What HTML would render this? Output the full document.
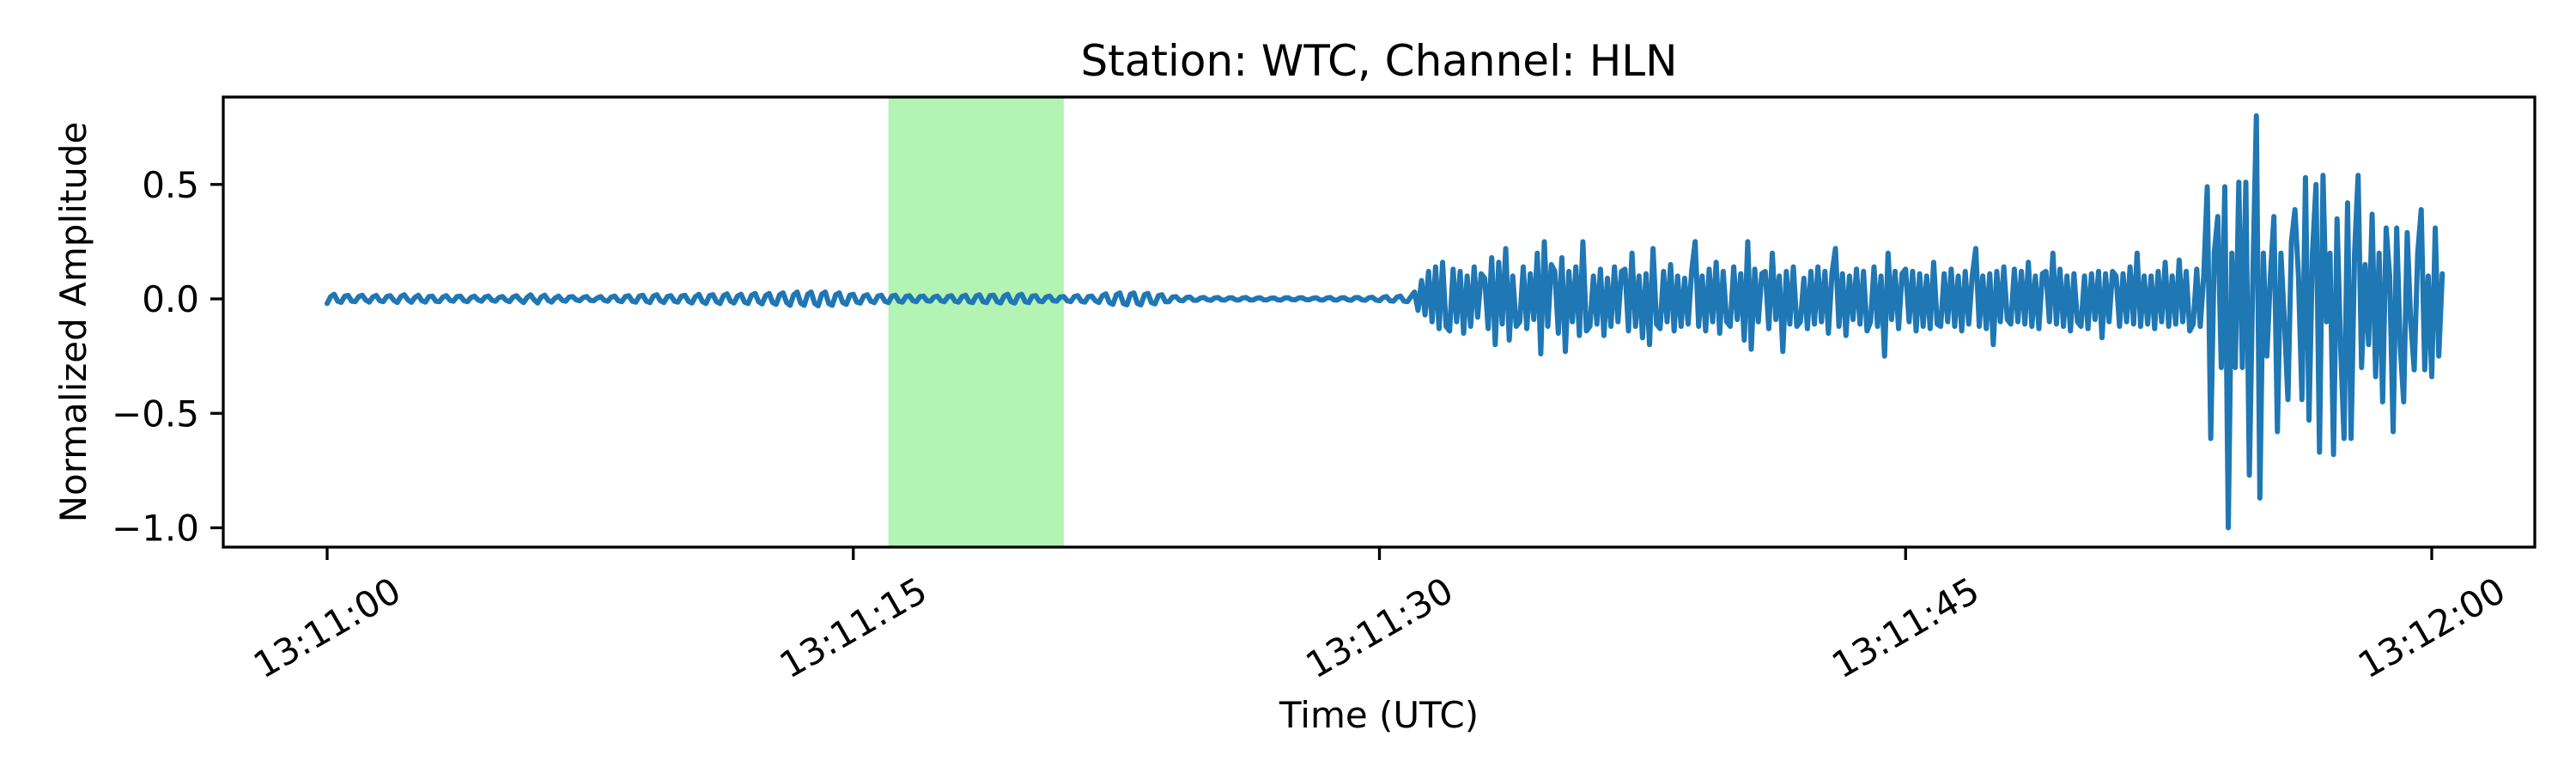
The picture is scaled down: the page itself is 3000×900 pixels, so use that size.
<!DOCTYPE html>
<html><head><meta charset="utf-8"><title>Station: WTC, Channel: HLN</title>
<style>
html,body{margin:0;padding:0;background:#fff;}
svg{display:block;font-family:"DejaVu Sans","Liberation Sans",sans-serif;}
</style></head>
<body>
<svg id="chart" width="3000" height="900" viewBox="0 0 3000 900" xmlns="http://www.w3.org/2000/svg">
<rect x="0" y="0" width="3000" height="900" fill="#fff"/>
<g id="plot"></g>
</svg>
<script>
// ---- data ----
const startTime = 0;            // seconds after 13:11:00
const sampleStep = 0.1;         // seconds between samples
const highlightSpan = [16.0, 21.0];
const xTickSeconds = [0, 15, 30, 45, 60];
const xTickLabels = ["13:11:00", "13:11:15", "13:11:30", "13:11:45", "13:12:00"];
const yTickValues = [0.5, 0.0, -0.5, -1.0];
const yTickLabels = ["0.5", "0.0", "\u22120.5", "\u22121.0"];
const amplitude = [
-0.02,0.01,0.02,-0.01,-0.015,0.012,0.015,-0.01,-0.012,0.01,
0.016,-0.005,-0.014,0.008,0.015,-0.008,-0.012,0.01,0.014,-0.006,
-0.016,0.01,0.018,-0.004,-0.015,0.006,0.016,-0.008,-0.014,0.01,
0.012,-0.01,-0.012,0.008,0.014,-0.006,-0.01,0.01,0.012,-0.008,
-0.012,0.006,0.012,-0.004,-0.01,0.008,0.012,-0.006,-0.01,0.006,
0.01,-0.006,-0.012,0.008,0.014,-0.004,-0.016,0.006,0.018,-0.004,
-0.018,0.008,0.016,-0.006,-0.014,0.004,0.012,-0.006,-0.01,0.008,
0.01,-0.004,-0.008,0.006,0.01,-0.006,-0.008,0.004,0.01,-0.006,
-0.01,0.008,0.012,-0.008,-0.012,0.01,0.014,-0.01,-0.014,0.012,
0.016,-0.01,-0.016,0.012,0.018,-0.008,-0.016,0.01,0.014,-0.01,
-0.014,0.012,0.016,-0.01,-0.018,0.01,0.02,-0.012,-0.02,0.014,
0.018,-0.012,-0.02,0.014,0.022,-0.01,-0.018,0.012,0.02,-0.014,
-0.02,0.016,0.024,-0.012,-0.022,0.014,0.024,-0.016,-0.024,0.018,
0.026,-0.016,-0.028,0.018,0.03,-0.018,-0.028,0.02,0.03,-0.02,
-0.03,0.02,0.03,-0.02,-0.028,0.018,0.026,-0.016,-0.024,0.016,
0.02,-0.014,-0.018,0.012,0.018,-0.01,-0.016,0.012,0.016,-0.01,
-0.016,0.012,0.016,-0.01,-0.014,0.01,0.014,-0.008,-0.012,0.01,
0.012,-0.008,-0.01,0.008,0.012,-0.008,-0.012,0.01,0.014,-0.01,
-0.014,0.01,0.016,-0.012,-0.016,0.012,0.018,-0.012,-0.016,0.014,
0.016,-0.012,-0.018,0.012,0.02,-0.012,-0.018,0.014,0.02,-0.012,
-0.016,0.012,0.014,-0.01,-0.012,0.008,0.012,-0.008,-0.01,0.008,
0.01,-0.008,-0.012,0.01,0.014,-0.01,-0.014,0.01,0.012,-0.008,
-0.016,0.014,0.022,-0.016,-0.024,0.018,0.026,-0.02,-0.026,0.02,
0.026,-0.02,-0.026,0.018,0.024,-0.016,-0.022,0.014,0.018,-0.012,
-0.012,0.008,0.01,-0.006,-0.008,0.006,0.008,-0.006,-0.006,0.004,
0.006,-0.004,-0.006,0.004,0.006,-0.004,-0.005,0.004,0.005,-0.004,
-0.005,0.004,0.006,-0.004,-0.005,0.003,0.005,-0.004,-0.004,0.003,
0.004,-0.004,-0.005,0.004,0.005,-0.003,-0.004,0.004,0.005,-0.003,
-0.004,0.003,0.005,-0.004,-0.005,0.004,0.006,-0.004,-0.005,0.004,
0.005,-0.004,-0.006,0.005,0.006,-0.004,-0.006,0.005,0.007,-0.005,
-0.008,0.006,0.01,-0.008,-0.01,0.008,0.012,-0.01,-0.012,0.01,
0.03,-0.05,0.08,-0.07,0.12,-0.1,0.14,-0.13,0.16,-0.12,
-0.14,0.13,-0.1,0.12,-0.15,0.1,-0.12,0.14,-0.08,0.11,
0.09,-0.13,0.18,-0.2,0.16,-0.11,0.22,-0.18,0.1,-0.12,
-0.1,0.14,-0.13,0.11,-0.09,0.2,-0.24,0.25,-0.12,0.15,
0.12,-0.15,0.18,-0.23,0.12,-0.1,0.14,-0.16,0.25,-0.14,
-0.12,0.1,-0.11,0.13,-0.16,0.09,-0.12,0.14,-0.1,0.12,
0.13,-0.14,0.2,-0.12,0.1,-0.17,0.11,-0.2,0.22,-0.11,
-0.13,0.12,-0.1,0.15,-0.14,0.1,-0.12,0.09,-0.11,0.12,
0.25,-0.12,0.1,-0.14,0.13,-0.1,0.16,-0.15,0.12,-0.1,
-0.12,0.14,-0.09,0.11,-0.18,0.25,-0.22,0.13,-0.1,0.11,
0.12,-0.13,0.2,-0.09,0.1,-0.23,0.12,-0.11,0.14,-0.12,
-0.1,0.09,-0.13,0.12,-0.11,0.14,-0.1,0.12,-0.15,0.11,
0.22,-0.12,0.11,-0.16,0.1,-0.09,0.13,-0.11,0.12,-0.14,
-0.1,0.14,-0.12,0.1,-0.25,0.2,-0.09,0.12,-0.13,0.11,
0.13,-0.1,0.12,-0.14,0.11,-0.12,0.1,-0.13,0.16,-0.11,
-0.12,0.11,-0.1,0.13,-0.12,0.1,-0.14,0.12,-0.11,0.1,
0.22,-0.12,0.1,-0.13,0.11,-0.2,0.12,-0.1,0.14,-0.09,
-0.11,0.13,-0.1,0.12,-0.11,0.16,-0.12,0.1,-0.13,0.11,
0.12,-0.1,0.2,-0.11,0.13,-0.12,0.1,-0.14,0.11,-0.1,
-0.12,0.1,-0.13,0.11,-0.09,0.12,-0.17,0.11,-0.1,0.12,
0.1,-0.12,0.11,-0.1,0.14,-0.11,0.2,-0.12,0.1,-0.11,
0.1,-0.13,0.12,-0.1,0.16,-0.12,0.1,-0.11,0.17,-0.1,
0.12,-0.14,
-0.11,0.13,-0.12,0.1,0.49,-0.61,0.2,0.36,-0.3,0.49,
-1.0,0.2,-0.3,0.51,-0.3,0.51,-0.77,0.1,0.8,-0.87,
0.2,-0.25,0.1,0.36,-0.58,0.2,-0.1,-0.44,0.25,0.39,
0.1,-0.44,0.53,-0.53,0.2,0.5,-0.67,0.54,-0.1,0.2,
-0.68,0.35,-0.2,-0.61,0.42,-0.61,0.2,0.54,-0.3,0.15,
-0.2,0.37,-0.34,0.2,-0.45,0.31,0.1,-0.58,0.31,-0.2,
-0.45,0.29,-0.1,-0.31,0.2,0.39,-0.31,0.1,-0.34,0.31,
-0.25,0.11
];
// ---- layout ----
const L = 260, R = 2952, T = 113, B = 637;
function xs(t){ return 381 + (t - 0) * (2832 - 381) / 60; }
function ys(v){ return 348 - v * 266.5; }
const NS = "http://www.w3.org/2000/svg";
const plot = document.getElementById('plot');
function mk(tag, attrs, parent){
  const e = document.createElementNS(NS, tag);
  for (const k in attrs) e.setAttribute(k, attrs[k]);
  (parent || plot).appendChild(e);
  return e;
}
// highlight
const hl = mk('rect', {x: xs(highlightSpan[0]), y: T, width: xs(highlightSpan[1]) - xs(highlightSpan[0]), height: B - T, fill: '#b3f3b3'});


// waveform
let d = '';
for (let i = 0; i < amplitude.length; i++) {
  const t = startTime + i * sampleStep;
  d += (i ? 'L' : 'M') + xs(t).toFixed(2) + ' ' + ys(amplitude[i]).toFixed(2);
}
const line = mk('path', {d: d, fill: 'none', stroke: '#1f77b4', 'stroke-width': 6, 'stroke-linejoin': 'round', 'stroke-linecap': 'round'});


// frame
const frame = mk('rect', {x: L, y: T, width: R - L, height: B - T, fill: 'none', stroke: '#000', 'stroke-width': 3.3});


// x ticks
for (let i = 0; i < xTickSeconds.length; i++) {
  const x = xs(xTickSeconds[i]);
  const tk = mk('line', {x1: x, y1: B, x2: x, y2: B + 15, stroke: '#000', 'stroke-width': 3.3});
  
  
  const tx = mk('text', {x: x, y: 731, 'font-size': 42, 'text-anchor': 'middle', 'dominant-baseline': 'central', transform: 'rotate(-30 ' + x + ' 731)'});
  tx.textContent = xTickLabels[i];
  
  
}
// y ticks
for (let i = 0; i < yTickValues.length; i++) {
  const y = ys(yTickValues[i]);
  const tk = mk('line', {x1: L - 15, y1: y, x2: L, y2: y, stroke: '#000', 'stroke-width': 3.3});
  
  
  const tx = mk('text', {x: L - 28, y: y + 15, 'font-size': 42, 'text-anchor': 'end'});
  tx.textContent = yTickLabels[i];
  
  
}
// titles
const title = mk('text', {x: (L + R) / 2, y: 88, 'font-size': 50, 'text-anchor': 'middle'});
title.textContent = 'Station: WTC, Channel: HLN';


const xl = mk('text', {x: (L + R) / 2, y: 847, 'font-size': 42, 'text-anchor': 'middle'});
xl.textContent = 'Time (UTC)';


const yl = mk('text', {x: 100, y: 375, 'font-size': 42, 'text-anchor': 'middle', transform: 'rotate(-90 100 375)'});
yl.textContent = 'Normalized Amplitude';


</script>
</body></html>
